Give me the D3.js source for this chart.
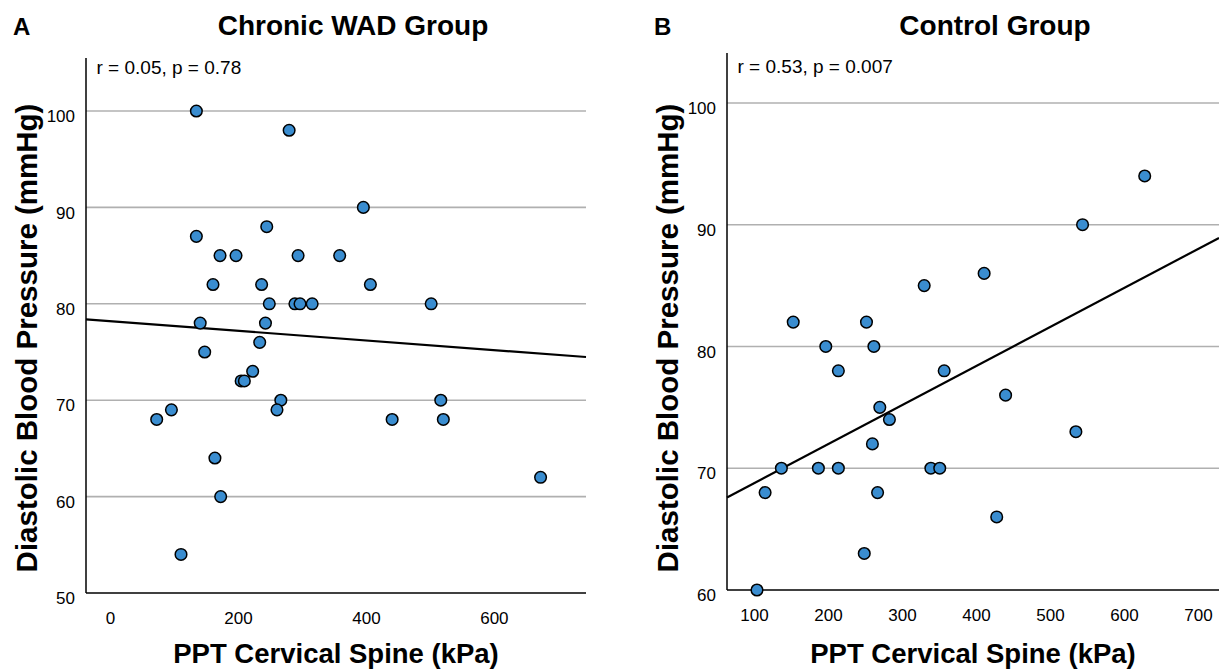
<!DOCTYPE html>
<html><head><meta charset="utf-8">
<script src="https://cdn.jsdelivr.net/npm/d3@7"></script>
<style>body{margin:0;background:#fff} text{font-family:"Liberation Sans",Arial,Helvetica,sans-serif;fill:#000}</style>
</head><body><svg id="c" width="1219" height="671"></svg>
<script>
// ---- data ----
const wadPPT = [135,280,396,245,135,172,197,294,359,161,237,407,249,289,297,316,502,141,243,234,148,223,205,210,267,517,261,96,73,441,521,164,673,173,111];
const wadDBP = [100,98,90,88,87,85,85,85,85,82,82,82,80,80,80,80,80,78,78,76,75,73,72,72,70,70,69,69,68,68,68,64,62,60,54];
const ctrlPPT = [628,544,411,330,153,252,197,262,214,357,440,270,283,535,260,137,187,214,339,351,115,267,428,249,104];
const ctrlDBP = [94,90,86,85,82,82,80,80,78,78,76,75,74,73,72,70,70,70,70,70,68,68,66,63,60];
const wadFit = [78.2, -0.005];      // intercept, slope
const ctrlFit = [65.56, 0.03206];
const wadXTicks = [0,200,400,600];
const wadYTicks = [50,60,70,80,90,100];
const ctrlXTicks = [100,200,300,400,500,600,700];
const ctrlYTicks = [60,70,80,90,100];
const wadStat = "r = 0.05, p = 0.78";
const ctrlStat = "r = 0.53, p = 0.007";
const titles = ["Chronic WAD Group","Control Group"];
const letters = ["A","B"];
const xTitle = "PPT Cervical Spine (kPa)";
const yTitle = "Diastolic Blood Pressure (mmHg)";

const svg = d3.select("#c");

const panels = [
  {x:wadPPT, y:wadDBP, fit:wadFit, xt:wadXTicks, yt:wadYTicks, stat:wadStat, title:titles[0], letter:letters[0],
   L:86, R:586, T:58, B:593, xd:[-37.5,744], yd:[50,105.5], statY:74, titleX:353, letterX:13, yLabX:37},
  {x:ctrlPPT, y:ctrlDBP, fit:ctrlFit, xt:ctrlXTicks, yt:ctrlYTicks, stat:ctrlStat, title:titles[1], letter:letters[1],
   L:727, R:1219, T:53, B:590, xd:[63.5,728.4], yd:[60,104.1], statY:73, titleX:995, letterX:654, yLabX:678}
];

panels.forEach(p => {
  const xs = d3.scaleLinear().domain(p.xd).range([p.L, p.R]);
  const ys = d3.scaleLinear().domain(p.yd).range([p.B, p.T]);
  const g = svg.append("g");

  // gridlines
  g.selectAll("line.grid").data(p.yt.filter(v => v > p.yd[0])).enter().append("line")
    .attr("x1", p.L).attr("x2", p.R).attr("y1", d => ys(d)).attr("y2", d => ys(d))
    .attr("stroke", "#b0b0b0").attr("stroke-width", 1.6);

  // axes (no tick marks)
  const yAx = d3.axisLeft(ys).tickValues(p.yt).tickSize(0).tickPadding(11);
  const yg = g.append("g").attr("transform", `translate(${p.L},0)`).call(yAx);
  yg.select(".domain").remove();
  yg.selectAll("text").attr("font-size", 17).attr("dy", "0.95em").attr("y", -5.5);

  const xAx = d3.axisBottom(xs).tickValues(p.xt).tickSize(0).tickPadding(0);
  const xg = g.append("g").attr("transform", `translate(0,${p.B})`).call(xAx);
  xg.select(".domain").remove();
  xg.selectAll("text").attr("font-size", 17).attr("dy", 0).attr("y", 31);

  g.append("line").attr("x1", p.L).attr("x2", p.L).attr("y1", p.T).attr("y2", p.B)
    .attr("stroke", "#000").attr("stroke-width", 1.5);
  g.append("line").attr("x1", p.L).attr("x2", p.R).attr("y1", p.B).attr("y2", p.B)
    .attr("stroke", "#000").attr("stroke-width", 1.5);

  // fit line
  const fx = p.xd;
  g.append("line")
    .attr("x1", xs(fx[0])).attr("y1", ys(p.fit[0] + p.fit[1]*fx[0]))
    .attr("x2", xs(fx[1])).attr("y2", ys(p.fit[0] + p.fit[1]*fx[1]))
    .attr("stroke", "#000").attr("stroke-width", 2.2);

  // points
  g.selectAll("circle").data(p.x.map((v,i) => [v, p.y[i]])).enter().append("circle")
    .attr("cx", d => xs(d[0])).attr("cy", d => ys(d[1])).attr("r", 5.8)
    .attr("fill", "#3a8dd0").attr("stroke", "#000").attr("stroke-width", 1.5);

  // texts
  g.append("text").attr("x", p.L + 10.5).attr("y", p.statY).attr("font-size", 19).text(p.stat);
  g.append("text").attr("x", p.titleX).attr("y", 35).attr("text-anchor", "middle")
    .attr("font-size", 28).attr("font-weight", "bold").text(p.title);
  g.append("text").attr("x", p.letterX).attr("y", 35)
    .attr("font-size", 24).attr("font-weight", "bold").text(p.letter);
  g.append("text").attr("x", (p.L + p.R)/2).attr("y", 663).attr("text-anchor", "middle")
    .attr("font-size", 27.5).attr("font-weight", "bold").text(xTitle);
  g.append("text").attr("transform", `translate(${p.yLabX},338) rotate(-90)`)
    .attr("text-anchor", "middle")
    .attr("font-size", 29.5).attr("font-weight", "bold").text(yTitle);
});
</script>
</body></html>
